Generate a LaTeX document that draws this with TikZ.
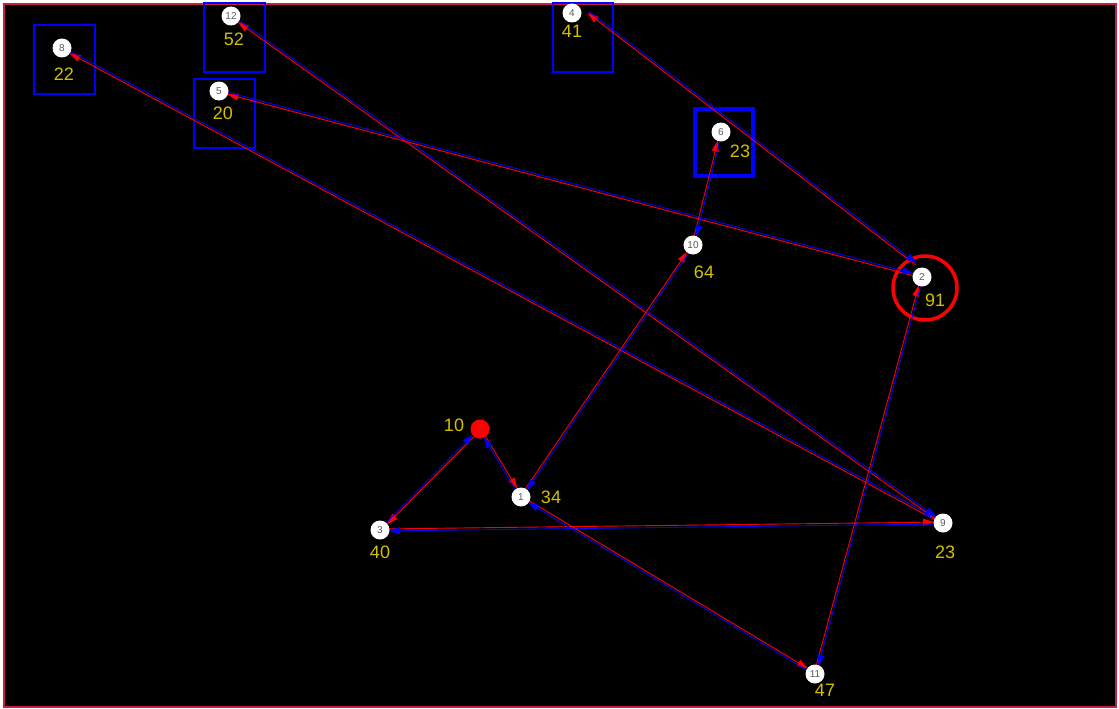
\documentclass[tikz,border=0pt]{standalone}
\usepackage{fontspec}
\setmainfont{Liberation Sans}
\usetikzlibrary{arrows.meta,calc}
\pgfdeclarelayer{bg}
\pgfsetlayers{bg,main}
\definecolor{lbl}{RGB}{212,192,0}
\definecolor{frame}{RGB}{200,30,70}
\definecolor{numc}{RGB}{90,90,90}
\tikzset{
  vtx/.style={circle,fill=white,draw=none,minimum size=19pt,inner sep=0pt,font=\fontsize{10}{10}\selectfont,text=numc},
  vred/.style={vtx,fill=red,text=numc},
  val/.style={text=lbl,font=\fontsize{18}{18}\selectfont,inner sep=0pt},
  selbox/.style={draw=blue,line width=2pt},
  redl/.style={draw=red,line width=0.9pt,-{Triangle[length=11pt,width=7pt]},shorten <=9pt,shorten >=9pt},
  bluel/.style={draw=blue,line width=0.9pt,-{Triangle[length=11pt,width=7pt]},shorten <=9pt,shorten >=9pt},
  redp/.style={redl,shorten <=0pt,shorten >=0pt},
  bluep/.style={bluel,shorten <=0pt,shorten >=0pt}
}
\newcommand\off{1pt}
% red tip at #1, blue tip at #2
\newcommand\bie[2]{%
  \draw[redl] ($(#2.center)!\off!90:(#1.center)$) -- ($(#1.center)!\off!-90:(#2.center)$);
  \draw[bluel] ($(#1.center)!\off!90:(#2.center)$) -- ($(#2.center)!\off!-90:(#1.center)$);
}
% same, between given end points
\newcommand\biep[2]{%
  \draw[redp] ($#2!\off!90:#1$) -- ($#1!\off!-90:#2$);
  \draw[bluep] ($#1!\off!90:#2$) -- ($#2!\off!-90:#1$);
}
\begin{document}
\begin{tikzpicture}[x=1pt,y=-1pt]
\useasboundingbox (0,0) rectangle (1119,709);
% nodes
\node[vtx] (n8) at (62,48) {8};
\node[vtx] (n12) at (231,16) {12};
\node[vtx] (n5) at (219,91) {5};
\node[vtx] (n4) at (572,13) {4};
\node[vtx] (n6) at (721,132) {6};
\node[vtx] (n10) at (693,245) {10};
\node[vtx] (n2) at (922,277) {2};
\node[vred] (n7) at (480,429) {7};
\node[vtx] (n1) at (521,497) {1};
\node[vtx] (n3) at (380,530) {3};
\node[vtx] (n9) at (943,523) {9};
\node[vtx] (n11) at (815,674) {11};
% labels
\node[val] (l8) at (64,74) {22};
\node[val] (l12) at (234,39) {52};
\node[val] (l5) at (223,113) {20};
\node[val] (l4) at (572,31) {41};
\node[val] (l6) at (740,151) {23};
\node[val] (l10) at (704,272) {64};
\node[val] (l2) at (935,300) {91};
\node[val] (l7) at (454,425) {10};
\node[val] (l1) at (551,497) {34};
\node[val] (l3) at (380,552) {40};
\node[val] (l9) at (945,552) {23};
\node[val] (l11) at (825,690) {47};
\begin{pgfonlayer}{bg}
\fill[white] (0,0) rectangle (1119,709);
\fill[black] (4,4) rectangle (1116,707);
\draw[frame,line width=1.5pt] (4,4) rectangle (1116,707);
% boxes
\draw[selbox] (34,25) rectangle (95,94);
\draw[selbox] (204,3) rectangle (265,72);
\draw[selbox] (194,79) rectangle (255,148);
\draw[selbox] (553,3) rectangle (613,72);
\draw[draw=blue,line width=3.5pt] (695,109) rectangle (753,176);
\draw[red,line width=3.5pt] (925,288) circle (32);
% edges
\bie{n8}{n9}
\bie{n12}{n9}
\bie{n5}{n2}
\biep{($(n4.center)+(16,-1)$)}{($(n2.center)+(-6,-13)$)}
\bie{n6}{n10}
\bie{n10}{n1}
\bie{n2}{n11}
\bie{n3}{n7}
\bie{n1}{n7}
\bie{n9}{n3}
\bie{n11}{n1}
\end{pgfonlayer}
\end{tikzpicture}
\end{document}
